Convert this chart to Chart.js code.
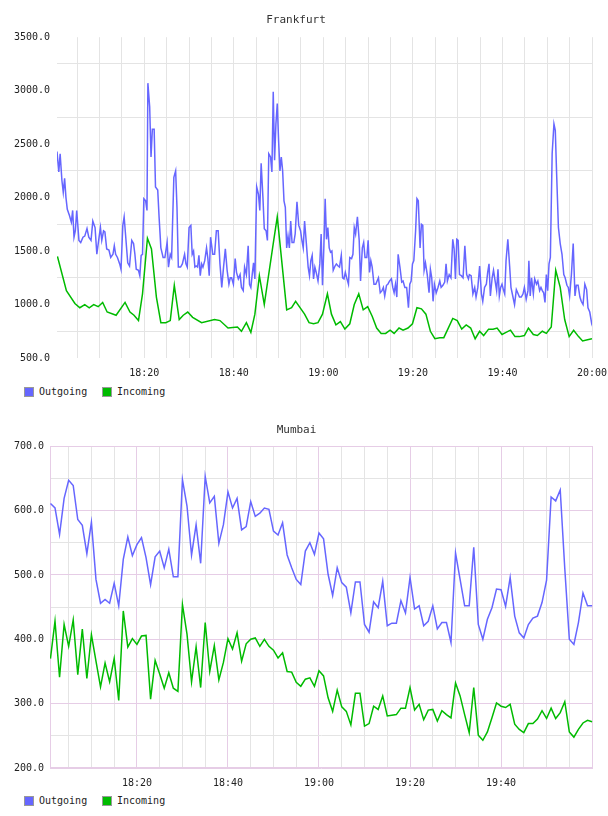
<!DOCTYPE html>
<html>
<head>
<meta charset="utf-8">
<title>Frankfurt / Mumbai traffic</title>
<script src="https://cdn.jsdelivr.net/npm/chart.js@4.4.1/dist/chart.umd.min.js"></script>
<style>
    body { margin: 0; background: #fff; width: 608px; height: 816px; overflow: hidden; position: relative; }
    canvas { position: absolute; left: 0; }
    .legend { position: absolute; left: 0; width: 300px; height: 12px; font-family: 'DejaVu Sans Mono', monospace; font-size: 10px; line-height: 12px; color: #222; }
    .legend .box { position: absolute; top: 1px; width: 8px; height: 8px; border: 1px solid #999; }
    .legend .label { position: absolute; top: 0; }
</style>
</head>
<body>
<canvas id="frankfurtChart" width="608" height="380" style="top:0"></canvas>
<div class="legend" style="top:386px">
    <span class="box" style="left:24px;background:#6666ff"></span><span class="label" style="left:39px">Outgoing</span>
    <span class="box" style="left:102px;background:#00bb00"></span><span class="label" style="left:117px">Incoming</span>
</div>
<canvas id="mumbaiChart" width="608" height="379" style="top:411px"></canvas>
<div class="legend" style="top:795px">
    <span class="box" style="left:24px;background:#6666ff"></span><span class="label" style="left:39px">Outgoing</span>
    <span class="box" style="left:102px;background:#00bb00"></span><span class="label" style="left:117px">Incoming</span>
</div>
<script>
// minutes after 18:00
const frankfurtOutTime = [
    0.5, 0.9, 1.2, 1.6, 1.9, 2.2, 2.5, 2.8, 3.3, 3.7, 4.0, 4.3, 4.6, 4.9, 5.4, 5.8, 6.3, 6.7, 7.2, 7.6,
    8.1, 8.5, 9.0, 9.4, 9.9, 10.2, 10.5, 10.9, 11.2, 11.6, 12.1, 12.5, 13.0, 13.3, 13.6, 14.0, 14.5, 14.8, 15.2, 15.5,
    15.8, 16.3, 16.7, 17.2, 17.6, 17.9, 18.2, 18.7, 19.0, 19.3, 19.6, 19.9, 20.3, 20.6, 20.8, 21.2, 21.5, 21.8, 22.2, 22.5,
    23.0, 23.3, 23.7, 24.2, 24.6, 25.1, 25.4, 25.8, 26.1, 26.6, 27.0, 27.3, 27.6, 28.1, 28.5, 29.0, 29.3, 29.6, 30.0, 30.4,
    30.7, 31.0, 31.3, 31.6, 31.9, 32.2, 32.5, 32.8, 33.1, 33.5, 33.9, 34.2, 34.5, 34.8, 35.3, 35.7, 36.1, 36.5, 36.9, 37.3,
    37.7, 38.1, 38.5, 38.9, 39.2, 39.5, 39.9, 40.3, 40.6, 41.0, 41.4, 41.7, 42.1, 42.4, 42.8, 43.2, 43.5, 43.8, 44.1, 44.4,
    44.7, 45.1, 45.5, 45.8, 46.1, 46.5, 46.8, 47.2, 47.5, 47.8, 48.2, 48.5, 48.8, 49.1, 49.4, 49.7, 50.0, 50.3, 50.6, 50.9,
    51.2, 51.5, 51.8, 52.1, 52.4, 52.7, 53.0, 53.4, 53.7, 54.1, 54.5, 54.9, 55.2, 55.5, 55.8, 56.2, 56.6, 56.9, 57.2, 57.5,
    57.8, 58.1, 58.4, 58.8, 59.2, 59.5, 59.8, 60.1, 60.4, 60.7, 61.0, 61.3, 61.6, 61.9, 62.2, 62.6, 62.9, 63.3, 63.6, 64.0,
    64.3, 64.6, 64.9, 65.2, 65.6, 65.9, 66.3, 66.6, 66.9, 67.2, 67.6, 68.0, 68.3, 68.7, 69.0, 69.3, 69.7, 70.0, 70.3, 70.6,
    70.9, 71.3, 71.7, 72.0, 72.3, 72.7, 73.1, 73.4, 73.7, 74.1, 74.4, 74.8, 75.2, 75.5, 75.8, 76.1, 76.4, 76.7, 77.1, 77.5,
    77.8, 78.2, 78.6, 79.0, 79.3, 79.6, 79.9, 80.2, 80.6, 80.9, 81.2, 81.6, 81.9, 82.2, 82.5, 82.8, 83.2, 83.6, 83.9, 84.2,
    84.5, 84.8, 85.2, 85.6, 86.0, 86.3, 86.7, 87.1, 87.4, 87.7, 88.1, 88.5, 88.9, 89.2, 89.5, 89.8, 90.1, 90.4, 90.8, 91.2,
    91.6, 92.0, 92.4, 92.6, 93.0, 93.4, 93.8, 94.1, 94.5, 94.9, 95.3, 95.6, 96.0, 96.4, 96.7, 97.0, 97.3, 97.7, 98.0, 98.4,
    98.7, 99.0, 99.3, 99.6, 99.9, 100.2, 100.5, 100.8, 101.2, 101.6, 101.9, 102.3, 102.7, 103.1, 103.4, 103.8, 104.2, 104.6, 104.9, 105.3,
    105.7, 105.9, 106.2, 106.5, 106.9, 107.2, 107.6, 107.9, 108.3, 108.6, 108.9, 109.2, 109.5, 109.8, 110.1, 110.4, 110.7, 111.1, 111.5, 111.8,
    112.1, 112.5, 112.9, 113.3, 113.7, 114.0, 114.4, 114.7, 115.0, 115.4, 115.8, 116.2, 116.5, 116.9, 117.3, 117.6, 118.0, 118.4, 118.8, 119.1,
    119.5, 119.9, 120.0
];
const frankfurtOutgoing = [
    2430, 2240, 2410, 2160, 2050, 2180, 2000, 1890, 1830, 1770, 1880, 1630, 1690, 1880, 1600, 1580, 1630, 1640, 1710, 1630,
    1600, 1780, 1720, 1470, 1630, 1720, 1600, 1690, 1680, 1520, 1510, 1440, 1470, 1550, 1470, 1440, 1380, 1330, 1740, 1820,
    1660, 1390, 1360, 1600, 1570, 1470, 1330, 1320, 1270, 1460, 1470, 1990, 1970, 1880, 3070, 2850, 2380, 2640, 2640, 2100,
    2070, 1820, 1530, 1440, 1440, 1580, 1350, 1470, 1440, 2190, 2250, 1910, 1350, 1350, 1380, 1470, 1380, 1350, 1720, 1740,
    1470, 1500, 1350, 1360, 1350, 1460, 1270, 1380, 1350, 1410, 1530, 1430, 1270, 1630, 1470, 1470, 1690, 1690, 1380, 1160,
    1350, 1520, 1320, 1190, 1250, 1250, 1190, 1430, 1300, 1240, 1280, 1160, 1130, 1350, 1280, 1550, 1190, 1160, 1280, 1390,
    1240, 2100, 2030, 1880, 2320, 2000, 1710, 1690, 1600, 2410, 2380, 2240, 2990, 2350, 2690, 2880, 2530, 2250, 2380, 2250,
    1970, 1910, 1530, 1640, 1530, 1780, 1580, 1580, 1660, 1960, 1740, 1690, 1600, 1530, 1780, 1570, 1350, 1270, 1410, 1460,
    1240, 1350, 1300, 1220, 1380, 1660, 1180, 1530, 1990, 1610, 1720, 1530, 1490, 1500, 1320, 1360, 1380, 1360, 1350, 1460,
    1250, 1240, 1300, 1250, 1190, 1440, 1430, 1470, 1720, 1660, 1820, 1600, 1220, 1530, 1580, 1440, 1440, 1600, 1300, 1410,
    1350, 1190, 1190, 1220, 1250, 1110, 1130, 1160, 1080, 1180, 1190, 1220, 1240, 1160, 1110, 1190, 1070, 1470, 1350, 1210,
    1220, 1160, 1160, 970, 1190, 1220, 1380, 1410, 1690, 1990, 1970, 1530, 1750, 1740, 1320, 1390, 1280, 1110, 1330, 1250,
    1030, 1190, 1110, 1160, 1220, 1160, 1180, 1210, 1380, 1220, 1280, 1250, 1610, 1520, 1240, 1610, 1600, 1280, 1270, 1250,
    1550, 1280, 1240, 1280, 1270, 1100, 1160, 1070, 1160, 1360, 1100, 1030, 1160, 1190, 1300, 1380, 1080, 1250, 1320, 1210,
    1130, 1330, 1080, 1160, 1190, 1140, 1100, 1410, 1610, 1360, 1160, 1080, 1000, 1140, 1110, 1070, 1070, 1100, 1160, 1050,
    1130, 1410, 1080, 1250, 1100, 1240, 1190, 1220, 1130, 1160, 1130, 1110, 1020, 1280, 1130, 1380, 1440, 2410, 2690, 2630,
    2220, 1720, 1570, 1470, 1280, 1250, 1180, 1160, 1080, 1280, 1570, 1080, 1180, 1180, 1070, 1030, 1000, 1190, 1140, 970,
    930, 830, 850
];
const frankfurtInTime = [
    0.6, 2.6, 4.5, 5.6, 6.7, 7.7, 8.7, 9.7, 10.7, 11.7, 13.7, 15.7, 16.8, 17.7, 18.7, 19.6, 20.7, 21.6, 22.7, 23.7,
    24.8, 25.8, 26.7, 27.8, 28.7, 29.7, 30.8, 32.8, 35.7, 36.9, 38.7, 40.8, 41.7, 42.8, 43.8, 44.7, 45.7, 46.8, 48.8, 49.7,
    51.8, 52.9, 53.8, 55.8, 56.8, 57.8, 58.8, 59.8, 60.9, 61.8, 62.8, 63.8, 64.8, 65.9, 66.9, 67.9, 68.9, 69.9, 70.9, 71.9,
    72.9, 73.9, 74.9, 75.8, 76.9, 77.8, 78.9, 79.9, 80.9, 81.9, 82.9, 83.9, 84.9, 86.0, 86.9, 87.9, 88.9, 89.9, 90.9, 91.9,
    92.9, 93.9, 94.9, 95.8, 96.9, 97.9, 98.8, 99.9, 100.8, 101.8, 102.8, 103.8, 104.9, 105.8, 106.9, 107.8, 108.9, 109.8, 110.9, 111.9,
    112.9, 113.9, 114.9, 115.9, 117.0, 117.9, 119.0, 120.0
];
const frankfurtIncoming = [
    1450, 1130, 1010, 970, 1000, 970, 1000, 980, 1020, 930, 900, 1020, 930, 900, 850, 1100, 1620, 1520, 1070, 830,
    830, 850, 1180, 860, 900, 930, 880, 830, 860, 850, 780, 790, 750, 830, 740, 910, 1270, 1000, 1570, 1820,
    950, 970, 1030, 910, 830, 820, 830, 910, 1100, 910, 810, 840, 770, 820, 1000, 1100, 950, 980, 890, 780,
    730, 730, 760, 730, 780, 760, 780, 820, 970, 960, 910, 750, 680, 690, 690, 780, 870, 850, 770, 810,
    780, 680, 750, 710, 770, 770, 780, 720, 740, 760, 700, 700, 710, 780, 720, 710, 750, 730, 790, 1320,
    1160, 860, 700, 760, 700, 660, 670, 680
];

const mumbaiMinutes = [];
for (let m = 1; m <= 120; m++) mumbaiMinutes.push(m);
const mumbaiOutgoing = [
    611, 604, 563, 619, 647, 639, 586, 577, 533, 582,
    493, 456, 462, 456, 487, 452, 524, 559, 530, 547,
    558, 527, 485, 528, 537, 511, 540, 497, 497, 648,
    607, 531, 578, 518, 653, 612, 622, 549, 578, 629,
    604, 619, 570, 575, 614, 591, 596, 604, 602, 568,
    562, 581, 531, 511, 493, 485, 537, 550, 532, 565,
    556, 501, 468, 511, 488, 481, 441, 489, 489, 423,
    411, 458, 449, 490, 421, 425, 425, 460, 441, 496,
    447, 452, 421, 428, 452, 416, 426, 426, 395, 534,
    493, 452, 452, 543, 423, 400, 431, 449, 478, 477,
    451, 496, 436, 410, 402, 423, 433, 436, 457, 492,
    621, 615, 632, 510, 400, 392, 426, 472, 452, 452
];
const mumbaiIncoming = [
    370, 428, 341, 423, 389, 430, 345, 416, 339, 407,
    366, 326, 363, 334, 370, 305, 444, 388, 401, 392,
    405, 406, 307, 367, 346, 324, 348, 324, 319, 454,
    408, 334, 388, 325, 426, 350, 390, 337, 364, 401,
    385, 410, 366, 393, 400, 402, 389, 400, 389, 383,
    371, 379, 350, 349, 333, 327, 338, 340, 327, 351,
    343, 309, 288, 321, 295, 288, 267, 316, 316, 265,
    269, 296, 291, 312, 281, 282, 283, 293, 293, 325,
    290, 299, 275, 290, 291, 273, 289, 283, 278, 332,
    312, 283, 255, 325, 251, 243, 256, 278, 301, 296,
    294, 299, 268, 260, 255, 269, 269, 276, 289, 277,
    293, 277, 286, 303, 256, 248, 260, 270, 274, 272
];

const FONT = "'DejaVu Sans Mono', monospace";
const OUT_COLOR = '#6666ff';
const IN_COLOR = '#00bb00';
const GREY = '#e4e4e4';
const PURPLE = '#e6cde6';

document.addEventListener('DOMContentLoaded', function () {

    function clockLabel(minutes) {
        const h = 18 + Math.floor(minutes / 60);
        const m = minutes % 60;
        return h + ':' + String(m).padStart(2, '0');
    }

    function points(times, values) {
        return times.map(function (t, i) { return { x: t, y: values[i] }; });
    }

    function lineSet(label, color, times, values) {
        return {
            label: label,
            data: points(times, values),
            borderColor: color,
            backgroundColor: color,
            borderWidth: 1.5,
            pointRadius: 0,
            tension: 0,
            fill: false
        };
    }

    // keep the plot edges where the layout padding puts them
    function fixXAxis(scale) {
        scale.height = 22;
        scale.paddingLeft = 0;
        scale.paddingRight = 0;
    }

    // light purple box round the Mumbai plot
    const framePlugin = {
        id: 'frame',
        beforeDatasetsDraw: function (chart) {
            const a = chart.chartArea;
            const ctx = chart.ctx;
            ctx.save();
            ctx.strokeStyle = PURPLE;
            ctx.lineWidth = 1;
            ctx.strokeRect(Math.round(a.left) + 0.5, Math.round(a.top) + 0.5,
                Math.round(a.right - a.left) - 1, Math.round(a.bottom - a.top) - 1);
            ctx.restore();
        }
    };

    function titleOptions(text, top, bottom) {
        return {
            display: true,
            text: text,
            color: '#333',
            font: { family: FONT, size: 11, weight: 'normal' },
            padding: { top: top, bottom: bottom }
        };
    }

    const tickFont = { family: FONT, size: 10 };

    // Frankfurt
    new Chart(document.getElementById('frankfurtChart'), {
        type: 'line',
        data: {
            datasets: [
                lineSet('Outgoing', OUT_COLOR, frankfurtOutTime, frankfurtOutgoing),
                lineSet('Incoming', IN_COLOR, frankfurtInTime, frankfurtIncoming)
            ]
        },
        options: {
            responsive: false,
            animation: false,
            layout: { padding: { left: 0, right: 16, top: 0, bottom: 0 } },
            plugins: {
                legend: { display: false },
                tooltip: { enabled: false },
                title: titleOptions('Frankfurt', 14, 10)
            },
            scales: {
                x: {
                    type: 'linear',
                    min: 0.5,
                    max: 120,
                    afterFit: fixXAxis,
                    border: { display: false },
                    grid: { color: GREY, drawTicks: false },
                    ticks: {
                        stepSize: 5, includeBounds: false, autoSkip: false, maxRotation: 0,
                        padding: 9, color: '#222', font: tickFont,
                        callback: function (v) { return v % 20 === 0 ? clockLabel(v) : ''; }
                    }
                },
                y: {
                    min: 500,
                    max: 3500,
                    afterFit: function (scale) { scale.width = 57; },
                    border: { display: false },
                    grid: {
                        drawTicks: false,
                        color: function (c) { return c.tick.value % 500 === 0 ? 'rgba(0,0,0,0)' : GREY; }
                    },
                    ticks: {
                        stepSize: 250, autoSkip: false, padding: 7, color: '#222', font: tickFont,
                        callback: function (v) { return v % 500 === 0 ? v.toFixed(1) : ''; }
                    }
                }
            }
        }
    });

    // Mumbai
    new Chart(document.getElementById('mumbaiChart'), {
        type: 'line',
        data: {
            datasets: [
                lineSet('Outgoing', OUT_COLOR, mumbaiMinutes, mumbaiOutgoing),
                lineSet('Incoming', IN_COLOR, mumbaiMinutes, mumbaiIncoming)
            ]
        },
        plugins: [framePlugin],
        options: {
            responsive: false,
            animation: false,
            layout: { padding: { left: 0, right: 15, top: 0, bottom: 0 } },
            plugins: {
                legend: { display: false },
                tooltip: { enabled: false },
                title: titleOptions('Mumbai', 13, 9)
            },
            scales: {
                x: {
                    type: 'linear',
                    min: 0.9,
                    max: 120.2,
                    afterFit: fixXAxis,
                    border: { display: false },
                    grid: {
                        drawTicks: false,
                        color: function (c) { return c.tick.value % 20 === 0 ? PURPLE : GREY; }
                    },
                    ticks: {
                        stepSize: 5, includeBounds: false, autoSkip: false, maxRotation: 0,
                        padding: 9, color: '#222', font: tickFont,
                        callback: function (v) { return v % 20 === 0 && v < 120 ? clockLabel(v) : ''; }
                    }
                },
                y: {
                    min: 200,
                    max: 700,
                    afterFit: function (scale) { scale.width = 50; },
                    border: { display: false },
                    grid: {
                        drawTicks: false,
                        color: function (c) { return c.tick.value % 100 === 0 ? PURPLE : GREY; }
                    },
                    ticks: {
                        stepSize: 50, autoSkip: false, padding: 6, color: '#222', font: tickFont,
                        callback: function (v) { return v % 100 === 0 ? v.toFixed(1) : ''; }
                    }
                }
            }
        }
    });
});
</script>
</body>
</html>
